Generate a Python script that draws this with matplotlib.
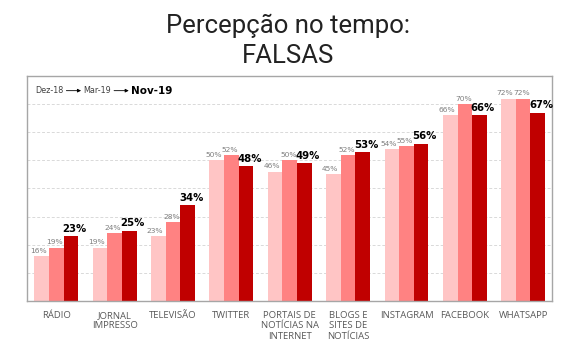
import numpy as np
import matplotlib.pyplot as plt

categories = ["RÁDIO", "JORNAL\nIMPRESSO", "TELEVISÃO", "TWITTER",
              "PORTAIS DE\nNOTÍCIAS NA\nINTERNET", "BLOGS E\nSITES DE\nNOTÍCIAS",
              "INSTAGRAM", "FACEBOOK", "WHATSAPP"]
dez18 = [16, 19, 23, 50, 46, 45, 54, 66, 72]
mar19 = [19, 24, 28, 52, 50, 52, 55, 70, 72]
nov19 = [23, 25, 34, 48, 49, 53, 56, 66, 67]
periods = ["Dez-18", "Mar-19", "Nov-19"]

colors = ["#FFC5C5", "#FF8282", "#C00000"]

fig = plt.figure(figsize=(5.76, 3.57), dpi=100)
ax = fig.add_axes([0.047, 0.157, 0.912, 0.63])

x = np.arange(len(categories))
w = 0.25
series = [dez18, mar19, nov19]
label_shift = [-0.06, -0.025, 0.06]
for i, vals in enumerate(series):
    pos = x + (i - 1) * w
    ax.bar(pos, vals, w, color=colors[i], zorder=2)
    for p, v in zip(pos, vals):
        if i < 2:
            ax.text(p + label_shift[i], v + 0.8, f"{v}%", ha="center", va="bottom",
                    fontsize=5.4, color="#7F7F7F", family="DejaVu Sans")
        else:
            ax.text(p + label_shift[i], v + 0.8, f"{v}%", ha="center", va="bottom",
                    fontsize=7.3, color="black", fontweight="bold", family="DejaVu Sans")

ax.set_ylim(0, 80)
ax.set_xlim(-0.5, len(categories) - 0.5)
ax.set_yticks(np.arange(10, 80, 10))
ax.set_yticklabels([])
ax.tick_params(axis="y", length=0)
ax.tick_params(axis="x", length=0, pad=7)
ax.set_xticks(x)
ax.set_xticklabels(categories, fontsize=6.8, color="#595959", family="Open Sans",
                   linespacing=1.25, va="top")
ax.grid(axis="y", color="#D9D9D9", linestyle=(0, (3, 2)), linewidth=0.7, zorder=0)
for s in ax.spines.values():
    s.set_color("#A6A6A6")
    s.set_linewidth(1.0)

# legend: Dez-18 -> Mar-19 -> Nov-19, laid out from measured text widths
fig.canvas.draw()
r = fig.canvas.get_renderer()
inv = ax.transAxes.inverted()
ly = 0.935
cur = 0.015
for k, name in enumerate(periods):
    last = k == len(periods) - 1
    t = ax.text(cur, ly, name, transform=ax.transAxes, va="center",
                fontsize=7.5 if last else 5.8,
                fontweight="bold" if last else "normal",
                color="black" if last else "#404040", family="DejaVu Sans")
    bb = t.get_window_extent(renderer=r)
    x1 = inv.transform((bb.x1, bb.y0))[0]
    if not last:
        a0, a1 = x1 + 0.006, x1 + 0.034
        ax.annotate("", xy=(a1, ly), xytext=(a0, ly), xycoords="axes fraction",
                    arrowprops=dict(arrowstyle="-|>", color="black", lw=0.6,
                                    mutation_scale=5, shrinkA=0, shrinkB=0))
        cur = a1 + 0.004

fig.text(0.5, 0.885, "Percepção no tempo:\nFALSAS", ha="center", va="center",
         fontsize=18.5, color="#222222", family="Roboto", linespacing=1.3)

plt.savefig("out.png", dpi=100)
